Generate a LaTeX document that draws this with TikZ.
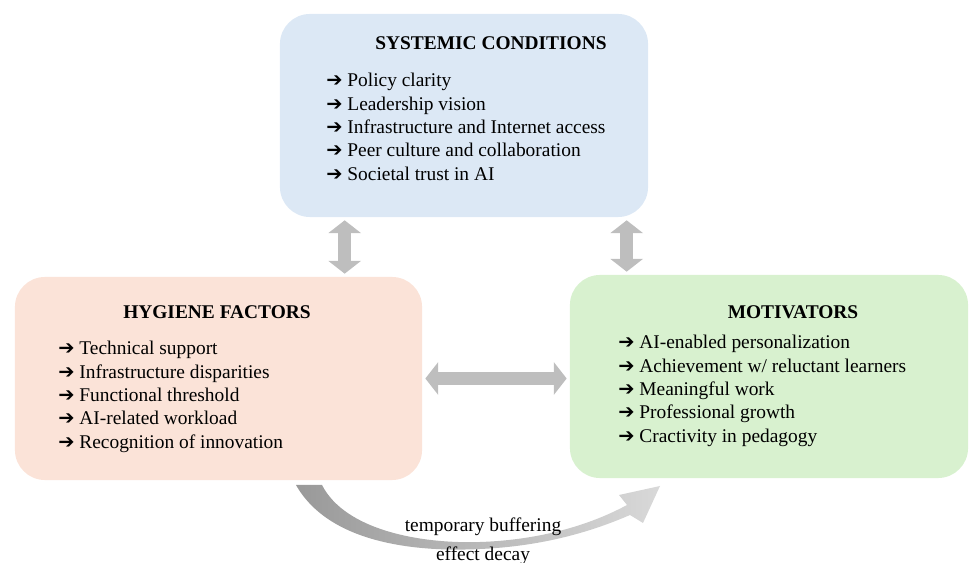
\documentclass[tikz,border=0pt]{standalone}
\usepackage{fontspec}
\setmainfont{Liberation Serif}
\newfontfamily\arrowfont{DejaVu Sans}
\usetikzlibrary{arrows.meta,positioning,calc}
\definecolor{sysblue}{RGB}{220,232,245}
\definecolor{hygpink}{RGB}{251,227,216}
\definecolor{motgreen}{RGB}{216,241,207}
\definecolor{linkgray}{RGB}{190,190,190}
\newcommand{\itm}{\mbox{\arrowfont\symbol{"2794}}\ }

\begin{document}
\begin{tikzpicture}[x=0.025cm,y=-0.025cm,font=\fontsize{13.8}{16.6}\selectfont,
  box/.style={fill=#1,rounded corners=0.75cm,minimum height=5.075cm,inner sep=0pt},
  head/.style={font=\fontsize{13.8}{16}\selectfont\bfseries,inner sep=0pt},
  lst/.style={align=left,anchor=north west,inner sep=0pt},
  dbl/.style={{Triangle[width=0.8cm,length=0.32cm]}-{Triangle[width=0.8cm,length=0.32cm]},
    draw=linkgray,line width=0.33cm,shorten <=0.075cm,shorten >=0.075cm}]
\useasboundingbox (0,0) rectangle (969,563);
% TOP
\node[box=sysblue,minimum width=9.2cm] (sys) at (464,115.5) {};
\node[head] (sysT) at (491,43) {SYSTEMIC CONDITIONS};
\node[lst] (sysL) at (326,73) {\itm Policy clarity\\\itm Leadership vision\\\itm Infrastructure and Internet access\\\itm Peer culture and collaboration\\\itm Societal trust in AI};
% LEFT
\node[box=hygpink,minimum width=10.175cm] (hyg) at (218.5,378.5) {};
\node[head] (hygT) at (217,312) {HYGIENE FACTORS};
\node[lst] (hygL) at (58,341) {\itm Technical support\\\itm Infrastructure disparities\\\itm Functional threshold\\\itm AI-related workload\\\itm Recognition of innovation};
% RIGHT
\node[box=motgreen,minimum width=9.95cm] (mot) at (769,376.5) {};
\node[head] (motT) at (793,312) {MOTIVATORS};
\node[lst] (motL) at (618,335) {\itm AI-enabled personalization\\\itm Achievement w/ reluctant learners\\\itm Meaningful work\\\itm Professional growth\\\itm Cractivity in pedagogy};
% links
\coordinate (l1) at ($(sys.south west)+(65,0)$);
\coordinate (r1) at ($(sys.south west)+(347,0)$);
\draw[dbl] (l1) -- (l1 |- hyg.north);
\draw[dbl] (r1) -- (r1 |- mot.north);
\draw[dbl] (hyg.east) -- (hyg.east -| mot.west);
% buffering arc
\shade[left color=gray!80,right color=gray!30]
  (296,485) .. controls (330,545) and (420,552) .. (480,549)
  .. controls (550,546) and (600,528) .. (630,515) -- (643,523) -- (660,486) -- (619,495)
  -- (627,505) .. controls (590,525) and (540,540) .. (480,542)
  .. controls (420,544) and (345,530) .. (322,485) -- cycle;
\node (tb) at (483,527) {temporary buffering};
\node (ed) at (483,556) {effect decay};
\end{tikzpicture}
\end{document}
